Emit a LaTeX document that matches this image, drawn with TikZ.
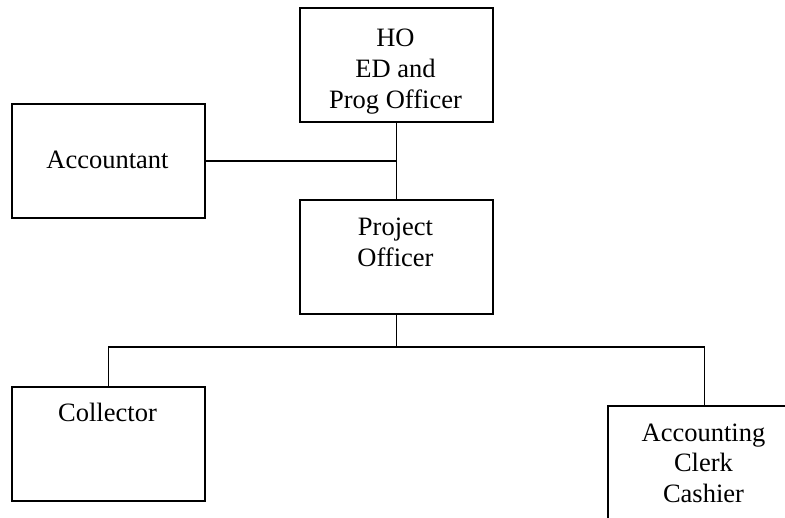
\documentclass[tikz,border=0pt]{standalone}
\usepackage{fontspec}
\setmainfont{Liberation Serif}
\newcommand{\lblfont}{\fontsize{26.5pt}{31pt}\selectfont}
\begin{document}
\begin{tikzpicture}[x=1pt,y=-1pt,
  box/.style={draw, line width=1.6pt, minimum width=193pt, minimum height=114pt, inner sep=0pt, anchor=north west},
  lbl/.style={font=\lblfont, align=center, anchor=base, inner sep=0pt},
  conn/.style={line width=1.6pt}]
\useasboundingbox (0,0) rectangle (785,518);
\node[box] (ho) at (299,7) {};
\node[box] (acc) at (11,103) {};
\node[box] (po) at (299,199) {};
\node[box] (col) at (11,386) {};
\node[box] (clerk) at (607,405) {};
\node[lbl] (hot) at (395.5,109) {HO\\ED and\\Prog Officer};
\node[lbl] (acct) at (107.5,169) {Accountant};
\node[lbl] (pot) at (395.5,267) {Project\\Officer};
\node[lbl] (colt) at (107.5,422) {Collector};
\node[lbl] (clerkt) at (703.5,503) {Accounting\\Clerk\\Cashier};
\coordinate (j1) at (ho.south |- acc.east);
\coordinate (j0) at (0,347);
\coordinate (j2) at (po.south |- j0);
\draw[conn] (ho.south) -- (po.north);
\draw[conn] (acc.east) -- (j1);
\draw[conn] (po.south) -- (j2);
\draw[conn] (col.north) |- (j2) -| (clerk.north);
\end{tikzpicture}
\end{document}
